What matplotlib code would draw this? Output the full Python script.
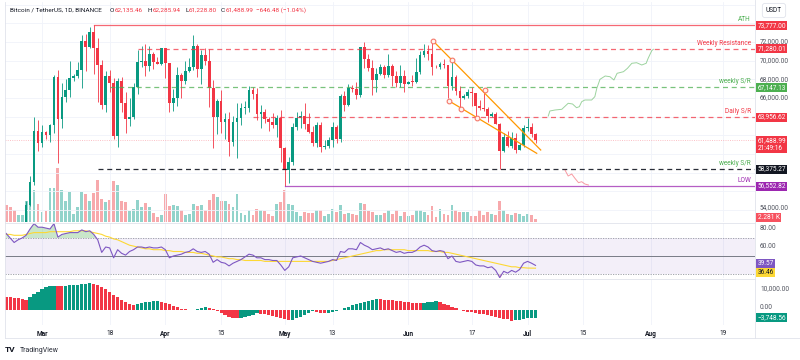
import matplotlib
matplotlib.use("Agg")
import matplotlib.pyplot as plt
import matplotlib.transforms as mtransforms
from matplotlib.lines import Line2D
import numpy as np

plt.rcParams['font.family'] = ['Roboto', 'DejaVu Sans']

W, H = 800, 360

# ---- data: daily BTC/USDT candles, 21 Feb .. 3 Jul (day 0 = 1 Mar) ----
first_day = -9
opens = [52284, 51839, 51304, 50731, 51571, 51733, 54476, 57037, 62432,
         61130, 62387, 61988, 63113, 68245, 63724, 66074, 66823, 68124, 68313,
         68955, 72078, 71452, 73072, 71388, 69499, 65300, 68393, 67609, 61937,
         67841, 65501, 63796, 63990, 67209, 69880, 69988, 69453, 70744, 69892, 69645,
         71333, 69702, 65446, 65980, 68508, 67837, 68896, 69360, 71620, 69146,
         70631, 70006, 67116, 63924, 65662, 63419, 63793, 61277, 63470, 63818,
         64941, 64962, 66838, 66407, 64276, 64481, 63755, 63419, 63114, 63842,
         60636, 58254, 59123, 62889, 63891, 64031, 63161, 62334, 61188, 63074,
         60799, 60825, 61484, 62940, 61578, 66206, 65235, 67024, 66915, 66274,
         71446, 70148, 69166, 67969, 68549, 69290, 68507, 69436, 68398, 67652, 68352,
         67540, 67766, 67765, 68809, 70567, 71082, 70757, 69343, 69306, 69648,
         69508, 67321, 68243, 66756, 66011, 66191, 66639, 66490, 65140, 64961,
         64828, 64096, 64253, 63181, 60277, 61806, 60864, 61706, 60427, 60986,
         62772, 62900, 62135]
highs = [52374, 52040, 51548, 51698, 51950, 54938, 57588, 64000, 63676,
         63114, 62433, 63231, 68499, 69000, 67637, 67985, 69990, 68541, 69887,
         72800, 72900, 73650, 73777, 72419, 70043, 68904, 68957, 68124, 68100,
         68240, 66650, 65999, 67628, 71150, 71561, 71769, 71552, 70913, 70355, 71366,
         71342, 69708, 66914, 69291, 68725, 69918, 70326, 72797, 71758, 71172,
         71305, 71227, 67932, 65840, 66867, 64365, 64499, 64117, 65450, 65419,
         65695, 67233, 67199, 67075, 65297, 64820, 63923, 64370, 64228, 64734,
         60780, 59625, 63320, 64545, 64646, 65500, 64422, 62984, 63421, 63469,
         61515, 61818, 63450, 63118, 66444, 66752, 67451, 67400, 67700, 71515,
         71979, 70666, 70096, 69250, 69610, 69562, 70687, 69591, 68935, 69500, 69044,
         67861, 68460, 70288, 71063, 71758, 71625, 71997, 69583, 69850, 70195,
         69565, 69999, 68449, 67294, 66402, 66999, 67198, 66566, 65738, 66482,
         65067, 64520, 64523, 63369, 62258, 62487, 62389, 62225, 61224, 63058,
         63861, 63288, 62285]
lows = [50625, 50935, 50521, 50586, 51280, 50901, 54450, 56691, 60364,
        60792, 61561, 61321, 62300, 59005, 62787, 65600, 66082, 67861, 68094,
        67024, 68845, 71333, 68555, 65600, 64780, 64533, 66594, 61555, 60775,
        64529, 62260, 63000, 63772, 66385, 69280, 68359, 68903, 69076, 69601, 69562,
        68110, 64550, 64559, 65113, 66011, 67447, 68824, 69043, 68210, 67518,
        69567, 65086, 60660, 62134, 62274, 61600, 59768, 60803, 59600, 63090,
        64237, 64500, 65864, 63589, 62794, 63297, 62424, 62781, 61765, 59191,
        56552, 56911, 58848, 62541, 62822, 62700, 62261, 60800, 60751, 60187,
        60487, 60632, 60750, 61142, 61319, 64602, 65107, 66600, 65857, 66060,
        69162, 68850, 66312, 66600, 68500, 68128, 68250, 67277, 67124, 67128, 66670,
        67445, 67257, 67612, 68567, 70383, 70119, 68420, 69181, 69152, 69172,
        66051, 66902, 66304, 65078, 65871, 66006, 65130, 64060, 64666, 64559,
        63379, 63944, 63178, 58402, 60240, 60712, 60606, 60063, 60383, 60712,
        62497, 61806, 61228]
closes = [51839, 51304, 50731, 51571, 51733, 54476, 57037, 62432, 61130,
          62387, 61988, 63113, 68245, 63724, 66074, 66823, 68124, 68313, 68955,
          72078, 71452, 73072, 71388, 69499, 65300, 68393, 67609, 61937, 67841,
          65501, 63796, 63990, 67209, 69880, 69988, 69453, 70744, 69892, 69645, 71333,
          69702, 65446, 65980, 68508, 67837, 68896, 69360, 71620, 69146, 70631,
          70006, 67116, 63924, 65662, 63419, 63793, 61277, 63470, 63818, 64941,
          64962, 66838, 66407, 64276, 64481, 63755, 63419, 63114, 63842, 60636,
          58254, 59123, 62889, 63891, 64031, 63161, 62334, 61188, 63074, 60799,
          60825, 61484, 62940, 61578, 66206, 65235, 67024, 66915, 66274, 71446,
          70148, 69166, 67969, 68549, 69290, 68507, 69436, 68398, 67652, 68352, 67540,
          67766, 67765, 68809, 70567, 71082, 70757, 69343, 69306, 69648, 69508,
          67321, 68243, 66756, 66011, 66191, 66639, 66490, 65140, 64961, 64828,
          64096, 64253, 63181, 60277, 61806, 60864, 61706, 60427, 60986, 62772,
          62900, 62135, 61488.99]
volumes_k = [11.9, 10.4, 8.5, 4.6, 5.0, 14.3, 25.3, 21.9, 12.6,
             6.9, 7.6, 23.7, 23.7, 37.5, 21.9, 14.5, 20.5, 5.7, 10.4,
             20.7, 19.3, 14.3, 20.0, 28.8, 16.1, 13.8, 15.4, 28.1, 25.3,
             14.5, 13.8, 7.4, 8.8, 15.0, 10.4, 13.3, 10.4, 6.4, 3.5, 5.0,
             19.5, 11.0, 11.5, 11.0, 8.1, 5.0, 5.7, 12.6, 11.0, 11.5,
             8.5, 15.4, 19.5, 17.3, 14.3, 14.3, 12.6, 10.4, 19.1, 6.2,
             5.0, 8.5, 4.6, 8.8, 8.5, 7.6, 5.7, 3.9, 12.6, 13.8,
             21.9, 12.6, 11.9, 6.9, 3.9, 6.9, 6.4, 6.4, 8.1, 8.5,
             3.9, 5.7, 9.2, 6.9, 11.9, 5.7, 6.4, 5.7, 4.6, 13.3,
             12.6, 7.4, 6.9, 5.0, 4.6, 6.2, 8.1, 5.7, 8.1, 4.1, 6.9,
             3.9, 4.6, 8.1, 8.1, 6.9, 5.0, 11.0, 3.6, 9.2, 5.7,
             4.6, 11.5, 8.1, 6.9, 6.9, 6.9, 4.1, 3.9, 8.1, 4.6,
             6.9, 5.7, 4.6, 14.3, 8.1, 5.7, 5.0, 6.2, 5.7, 3.9,
             5.7, 5.0, 2.281]
rsi = [75, 70, 65, 68, 70, 73, 80, 86, 82,
       82, 81, 80, 86, 71, 74, 75, 76, 76, 76,
       79, 77, 78, 74, 68, 54, 60, 59, 48, 57,
       53, 51, 55, 57, 60, 60, 59, 60, 59, 59,
       60, 57, 48, 50, 51, 52, 54, 55, 58, 55,
       54, 55, 52, 43, 46, 43, 42, 39, 42, 44,
       46, 49, 52, 51, 48, 48, 46, 46, 45, 45,
       40, 34, 38, 48, 49, 50, 48, 46, 44, 43,
       42, 43, 44, 46, 45, 55, 54, 58, 58, 57,
       65, 62, 60, 57, 58, 59, 57, 58, 56, 54,
       55, 53, 54, 54, 56, 60, 62, 60, 56, 55,
       56, 55, 47, 50, 44, 43, 44, 45, 44, 40,
       39, 39, 37, 38, 34, 26, 33, 31, 34, 32,
       35, 42, 44, 42, 39.57]
rsi_ma = [74, 74, 73, 73, 73, 74, 75, 76, 76,
          76, 76, 77, 77, 77, 77, 77, 77, 78, 78,
          78, 78, 77, 76, 75, 74, 72, 71, 69, 68,
          66, 64, 62, 61, 60, 59, 58, 58, 57, 57,
          57, 56, 56, 55, 55, 55, 54, 54, 54, 53,
          53, 52, 51, 50, 49, 49, 48, 47, 47, 46,
          46, 45, 45, 45, 45, 45, 44, 44, 44, 44,
          44, 44, 44, 44, 44, 44, 44, 44, 44, 44,
          44, 44, 44, 45, 46, 47, 48, 49, 50, 51,
          52, 53, 54, 55, 56, 56, 57, 57, 57, 57,
          57, 57, 56, 56, 56, 56, 56, 56, 55, 55,
          55, 54, 54, 53, 52, 51, 50, 49, 48, 47,
          46, 45, 44, 43, 42, 41, 40, 39, 38, 38,
          37, 37, 36.6, 36.5, 36.46]
ao = [6300, 6100, 5800, 5500, 5200, 5000, 6000, 7500, 8600,
      9800, 11000, 11300, 11500, 11300, 11200, 11400, 11700, 11900, 12100,
      12300, 12600, 12800, 12500, 11800, 11000, 9800, 8500, 7300, 6300,
      4800, 3700, 3000, 2400, 2700, 3200, 3600, 4000, 4300, 4400,
      3900, 3300, 2700, 1800, 1200, 700, 300, -200, 200, 600,
      1000, 1300, 900, 300, -600, -1500, -2300, -3100, -3600, -4000,
      -3800, -3400, -2800, -2200, -1500, -1700, -2000, -2400, -2700, -3300,
      -3900, -4500, -4800, -4600, -4000, -3200, -2400, -1600, -700, -1000,
      -1300, -1500, -1300, -1000, -600, 200, 800, 1500, 2200, 2800,
      3300, 3800, 4300, 4800, 5200, 5150, 5000, 4900, 4800, 4500,
      4300, 4000, 3700, 3500, 3400, 3300, 3500, 3800, 4000, 4100,
      3800, 3000, 2300, 1600, 800, 200, -400, -800, -1100, -1400,
      -1700, -2000, -2400, -2900, -3300, -3800, -4200, -4500, -5100, -4900,
      -4600, -4300, -4000, -3850, -3748.56]

tick_days = [0, 17, 31, 45, 61, 73, 92, 108, 122, 136, 153, 171]
tick_labels = ["Mar", "18", "Apr", "15", "May", "13", "Jun", "17", "Jul", "15", "Aug", "19"]
month_ticks = {"Mar", "Apr", "May", "Jun", "Jul", "Aug"}

# horizontal levels: label, price, start day, line colour, style, text colour
level_names = ["ATH", "Weekly Resistance", "weekly S/R", "Daily S/R", "weekly S/R", "LOW"]
level_prices = [73777.00, 71280.01, 67147.13, 63956.62, 58375.27, 56552.82]
level_start = [13, 24, 17, 53, 14, 61]
level_colors = ["#F23645", "#F23645", "#4CAF50", "#F23645", "#131722", "#9C27B0"]
level_solid = [True, False, False, False, False, True]
level_text_colors = ["#4CAF50", "#F23645", "#4CAF50", "#F23645", "#4CAF50", "#9C27B0"]

# falling wedge drawing (day, price)
wedge_upper = [(98.2, 72139), (125.3, 60425)]
wedge_upper_pts = [(98.2, 72139), (103.1, 70039), (111.3, 66855)]
wedge_lower = [(102.3, 65676), (124.3, 60071)]
wedge_lower_pts = [(102.3, 65676), (105.3, 64819), (109.3, 63886)]

# projected paths
bull_days = [127.2, 127.6, 128.9, 130.6, 132.2, 133.3, 134.3, 135.0, 135.6, 136.4, 138.1,
             138.9, 139.4, 140.2, 141.5, 142.7, 143.7, 144.5, 146.1, 147.1, 148.2, 149.4,
             150.7, 151.8, 152.3, 153.2, 153.6]
bull_prices = [64069, 64605, 64712, 64787, 65430, 65355, 64958, 65066, 65601, 65784, 65784,
               66137, 67038, 68002, 68356, 68281, 67927, 68645, 68817, 69181, 69717, 69781,
               69535, 69717, 70253, 71068, 71218]
bear_days = [131.4, 132.2, 133.1, 133.9, 134.8, 135.6, 136.4, 137.3]
bear_prices = [58281, 57638, 57852, 57391, 56920, 57027, 56780, 56673]

GREEN = "#089981"
RED = "#F23645"
TXT = "#131722"
GRID = "#f0f3fa"
FS = 4.7

days = np.arange(first_day, first_day + len(closes))
o = np.array(opens, float)
hi = np.array(highs, float)
lo = np.array(lows, float)
c = np.array(closes, float)
up = c >= o

# ---- layout (pixel scale of the reference) ----
PX_DAY = 3.98
X0, X1 = 5, 755
DAY0_X = 42
xlim = ((X0 - DAY0_X) / PX_DAY, (X1 - DAY0_X) / PX_DAY)


def rect(x0, y0, x1, y1):
    return [x0 / W, 1 - y1 / H, (x1 - x0) / W, (y1 - y0) / H]


fig = plt.figure(figsize=(8, 3.6), dpi=100)
fig.patch.set_facecolor("white")

P_TOP, P_BOT = 2, 222
PX_USD = 0.00933
p_lo = 72000 - (P_BOT - 42) / PX_USD
p_hi = p_lo + (P_BOT - P_TOP) / PX_USD

ax_v = fig.add_axes(rect(X0, P_TOP, X1, P_BOT))
ax_p = fig.add_axes(rect(X0, P_TOP, X1, P_BOT))
ax_r = fig.add_axes(rect(X0, 223, X1, 278))
ax_a = fig.add_axes(rect(X0, 279, X1, 325))

for a in (ax_v, ax_p, ax_r, ax_a):
    a.set_xlim(*xlim)
    for s in a.spines.values():
        s.set_visible(False)
    a.set_yticks([])
    a.tick_params(axis="x", length=0, labelbottom=False)
ax_p.set_facecolor("none")

# volume
ax_v.set_ylim(0, (P_BOT - P_TOP) * 0.69)
vcol = np.where(up, "#92d3cb", "#f7a9ac")
ax_v.bar(days, volumes_k, width=0.72, color=vcol, linewidth=0)

# grids
ax_p.set_ylim(p_lo, p_hi)
grid_prices = np.arange(54000, 76001, 2000)
for gp in grid_prices:
    ax_p.axhline(gp, color=GRID, lw=0.6, zorder=0)
for a in (ax_p, ax_r, ax_a):
    for td in tick_days:
        a.axvline(td, color=GRID, lw=0.6, zorder=0)

# candles
ccol = np.where(up, GREEN, RED)
ax_p.vlines(days, lo, hi, colors=ccol, lw=0.6, zorder=3)
body = np.maximum(np.abs(c - o), 40)
ax_p.bar(days, body, bottom=np.minimum(o, c), width=0.7, color=ccol, linewidth=0, zorder=4)

# current price line
ax_p.axhline(c[-1], color=RED, lw=0.6, ls=(0, (1.2, 1.5)), alpha=0.35, zorder=2)

# levels
blend_p = mtransforms.blended_transform_factory(ax_p.transAxes, ax_p.transData)
for name, lp, ls_, lc, solid, tc in zip(level_names, level_prices, level_start,
                                        level_colors, level_solid, level_text_colors):
    style = "-" if solid else (0, (4, 3))
    ax_p.plot([ls_, xlim[1]], [lp, lp], color=lc, lw=0.9, ls=style,
              alpha=0.75 if lc != "#131722" else 0.9, zorder=5)
    ax_p.annotate(name, xy=(1, lp), xycoords=blend_p,
                  xytext=(-3, 4.0), textcoords="offset points", ha="right", va="center",
                  fontsize=FS, color=tc, zorder=6)

# wedge
OR = "#FF9800"
for seg in (wedge_upper, wedge_lower):
    xs, ys = zip(*seg)
    ax_p.plot(xs, ys, color=OR, lw=0.9, zorder=6)
for pts in (wedge_upper_pts, wedge_lower_pts):
    xs, ys = zip(*pts)
    ax_p.plot(xs, ys, ls="none", marker="o", ms=3.4, mfc="#fff4ef", mec="#f5786a", mew=0.8, zorder=7)

# projected paths
ax_p.plot(bull_days, bull_prices, color="#4CAF50", lw=0.7, alpha=0.55, zorder=6)
ax_p.plot(bear_days, bear_prices, color="#F23645", lw=0.7, alpha=0.5, zorder=6)

# RSI pane
ax_r.set_ylim(50 - 22 / 0.9, 50 + 33 / 0.9)
r = np.array(rsi, float)
ax_r.axhspan(30, 70, color="#7E57C2", alpha=0.09, lw=0)
ax_r.axhline(70, color="#9598a1", lw=0.6, ls=(0, (1.5, 1.5)))
ax_r.axhline(30, color="#9598a1", lw=0.6, ls=(0, (1.5, 1.5)))
ax_r.axhline(50, color="#787B86", lw=0.7)
ax_r.fill_between(days, r, 70, where=r >= 70, interpolate=True, color="#4CAF50", alpha=0.3, lw=0)
ax_r.fill_between(days, r, 30, where=r <= 30, interpolate=True, color="#F23645", alpha=0.3, lw=0)
ax_r.plot(days, rsi_ma, color="#FDD835", lw=0.8)
ax_r.plot(days, r, color="#7E57C2", lw=0.8)

# AO pane
ax_a.set_ylim(-(325 - 310) / 21 * 10000, (310 - 279) / 21 * 10000)
aov = np.array(ao, float)
rising = np.concatenate([[False], aov[1:] > aov[:-1]])
ax_a.bar(days, aov, width=0.8, color=np.where(rising, GREEN, RED), linewidth=0)

# date axis
ax_a.set_xticks(tick_days)
ax_a.set_xticklabels(tick_labels)
ax_a.tick_params(axis="x", labelbottom=True, pad=3.5, labelsize=FS, colors=TXT)
for lab in ax_a.get_xticklabels():
    if lab.get_text() in month_ticks:
        lab.set_fontweight("bold")

# frame lines
for seg in ([(X0, X0), (P_TOP, 338)], [(X1, X1), (0, 338)], [(X0, 800), (338, 338)],
            [(X0, X1), (222.5, 222.5)], [(X0, X1), (278.5, 278.5)]):
    fig.add_artist(Line2D(np.array(seg[0]) / W, 1 - np.array(seg[1]) / H,
                          color="#e0e3eb", lw=0.6))


# right axis text
def scale_text(ax, val, txt, dy=0):
    tr = mtransforms.blended_transform_factory(fig.transFigure, ax.transData)
    ax.annotate(txt, xy=(760 / W, val), xycoords=tr, xytext=(0, dy), textcoords="offset points",
                fontsize=FS, color="#50535e", va="center", ha="left",
                annotation_clip=False, zorder=1)


def tag(ax, val, txt, fc, tc="white", dy=0, va="center"):
    tr = mtransforms.blended_transform_factory(fig.transFigure, ax.transData)
    ax.annotate(txt, xy=(757.5 / W, val), xycoords=tr, xytext=(0, dy), textcoords="offset points",
                fontsize=FS, color=tc, va=va, ha="left", annotation_clip=False, zorder=20,
                linespacing=1.15,
                bbox=dict(boxstyle="square,pad=0.16", fc=fc, ec="none"))


tag_prices = level_prices + [c[-1], c[-1] - 1500]
for gp in grid_prices:
    if gp == 54000 or gp > 74000:
        continue
    if min(abs(gp - tp) for tp in tag_prices) > 650:
        scale_text(ax_p, gp, f"{gp:,.2f}")
scale_text(ax_p, 54000, "54,000.00", dy=1.5)
for name, lp, lc in zip(level_names, level_prices, level_colors):
    tag(ax_p, lp, f"{lp:,.2f}", lc)
tag(ax_p, c[-1], f"{c[-1]:,.2f}\n21:49:16", RED, dy=2.2, va="top")
tag(ax_v, 0, f"{volumes_k[-1]:.3f} K", "#F7525F", dy=1.0, va="bottom")

for rv in (80, 60):
    scale_text(ax_r, rv, f"{rv:.2f}")
tag(ax_r, rsi[-1], f"{rsi[-1]:.2f}", "#7E57C2", dy=1.4)
tag(ax_r, rsi_ma[-1], f"{rsi_ma[-1]:.2f}", "#FDD835", tc=TXT, dy=-3.2)

scale_text(ax_a, 10000, "10,000.00")
scale_text(ax_a, 0, "0.00", dy=1.5)
tag(ax_a, ao[-1], f"{ao[-1]:,.2f}".replace("-", "\u2212"), GREEN)

# USDT box
fig.text(774 / W, 1 - 10.5 / H, "USDT", fontsize=FS, color=TXT, ha="center", va="center",
         bbox=dict(boxstyle="round,pad=0.55,rounding_size=0.4", fc="white", ec="#e0e3eb", lw=0.6))

# header
hdr = [(10, "Bitcoin / TetherUS, 1D, BINANCE", TXT),
       (110, "O", TXT), (114.5, "62,135.46", RED),
       (148, "H", TXT), (153, "62,285.94", RED),
       (185, "L", TXT), (189, "61,228.80", RED),
       (221, "C", TXT), (225.5, "61,488.99", RED),
       (256, "\u2212646.48 (\u22121.04%)", RED)]
for hx, ht, hc in hdr:
    fig.text(hx / W, 1 - 10.5 / H, ht, fontsize=4.6, color=hc, ha="left", va="center")

# logo
fig.text(5 / W, 1 - 350 / H, "TV", fontsize=6, fontweight="bold", color=TXT, ha="left", va="center")
fig.text(20 / W, 1 - 350 / H, "TradingView", fontsize=5, color="#2a2e39", ha="left", va="center")

fig.savefig("out.png", dpi=100, facecolor="white")
